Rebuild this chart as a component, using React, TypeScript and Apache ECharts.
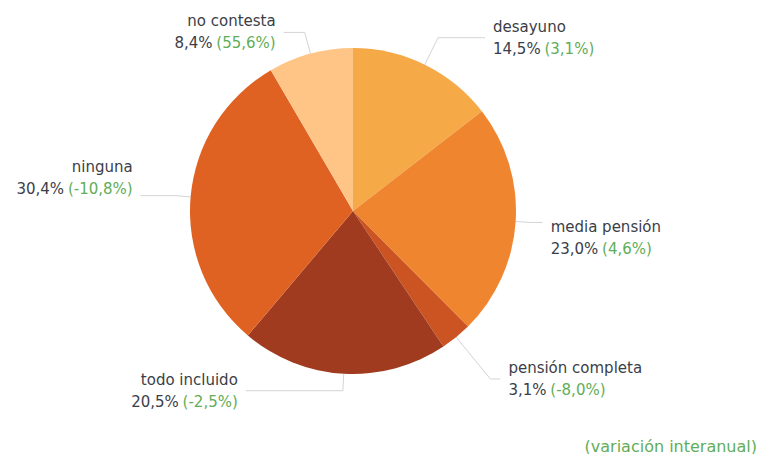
import React, { useEffect, useRef } from "react";
import * as echarts from "echarts";

const categories = ["desayuno", "media pensión", "pensión completa", "todo incluido", "ninguna", "no contesta"];
const shares = [14.5, 23.0, 3.1, 20.5, 30.4, 8.4];
const variation = [3.1, 4.6, -8.0, -2.5, -10.8, 55.6];
const colors = ["#F5A947", "#F08530", "#CC5422", "#A03B20", "#E06222", "#FFC587"];
const footnote = "(variación interanual)";

// label line lengths [length, length2] and label offsets (layout only)
const lineLengths = [[30, 47], [15, 12], [54, 10], [17, 97], [15, 35], [22, 21]];
const labelOffsets = [[0, 0], [0, 16], [0, 0], [0, 0], [0, -18], [0, 0]];

const fmt = (v: number) => v.toFixed(1).replace(".", ",");

export default function App() {
  const ref = useRef<HTMLDivElement>(null);
  useEffect(() => {
    document.body.style.margin = "0";
    if (!ref.current) return;
    const chart = echarts.init(ref.current, undefined, { renderer: "svg" });
    const font = "'DejaVu Sans', sans-serif";
    chart.setOption({
      animation: false,
      backgroundColor: "#ffffff",
      graphic: [
        {
          type: "text",
          right: 3,
          top: 438,
          style: { text: footnote, fill: "#62ad58", font: `16px ${font}` },
        },
      ],
      series: [
        {
          type: "pie",
          center: [353, 211],
          radius: [0, 163],
          startAngle: 90,
          clockwise: true,
          avoidLabelOverlap: false,
          itemStyle: { borderWidth: 0 },
          emphasis: { disabled: true },
          label: {
            show: true,
            position: "outside",
            distanceToLabelLine: 8,
            fontFamily: font,
            formatter: (p: any) =>
              `{n|${p.name}}\n{v|${fmt(shares[p.dataIndex])}%} {g|(${fmt(variation[p.dataIndex])}%)}`,
            rich: {
              n: { fontSize: 15, color: "#3b3e48", lineHeight: 22, fontFamily: font },
              v: { fontSize: 15, color: "#3b3e48", lineHeight: 22, fontFamily: font },
              g: { fontSize: 15, color: "#62ad58", lineHeight: 22, fontFamily: font },
            },
          },
          labelLine: { show: true, lineStyle: { color: "#d4d4d4", width: 1 } },
          data: categories.map((c, i) => ({
            name: c,
            value: shares[i],
            itemStyle: { color: colors[i] },
            label: { offset: labelOffsets[i] },
            labelLine: { length: lineLengths[i][0], length2: lineLengths[i][1] },
          })),
        },
      ],
    });
    return () => chart.dispose();
  }, []);
  return <div ref={ref} style={{ width: 760, height: 454 }} />;
}
